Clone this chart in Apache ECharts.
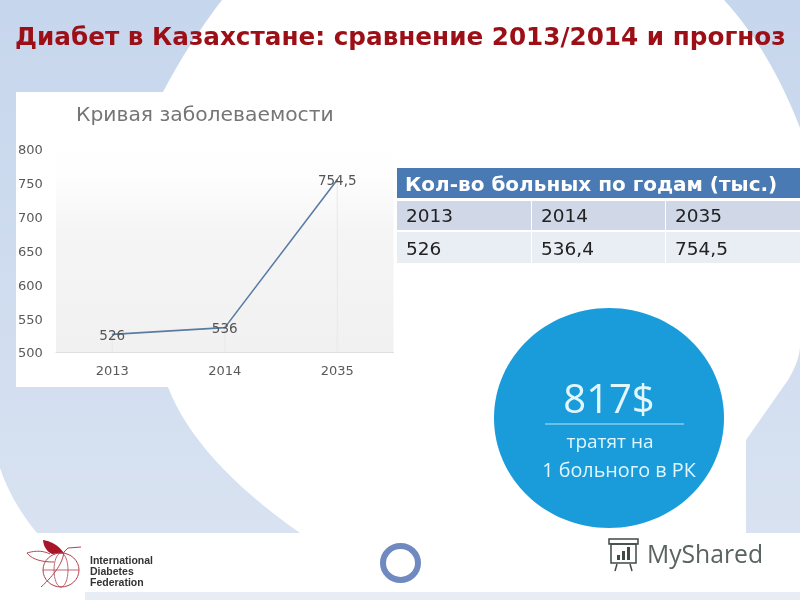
<!DOCTYPE html>
<html>
<head>
    <meta charset="UTF-8"/>
    <title>Диабет в Казахстане</title>
    <style>
        html, body { margin: 0; padding: 0; background: #fff; }
        #chart { width: 800px; height: 600px; }
    </style>
</head>
<body>
<div id="chart"></div>
<script src="https://cdn.jsdelivr.net/npm/echarts@6/dist/echarts.min.js"></script>
<script>
    const categories = ["2013", "2014", "2035"];
    const patients = [526, 536, 754.5];
    const yMin = 500;
    const yMax = 800;
    const yStep = 50;

    const tableTitle = "Кол-во больных по годам (тыс.)";
    const tableYears = ["2013", "2014", "2035"];
    const tableValues = ["526", "536,4", "754,5"];

    const font = "'DejaVu Sans', Verdana, sans-serif";
    const chart = echarts.init(document.getElementById("chart"), null, {renderer: "canvas"});

    function linear(stops) {
        return new echarts.graphic.LinearGradient(0, 0, 0, 1, stops.map(function (s) {
            return {offset: s[0], color: s[1]};
        }));
    }

    function label(x, y, text, size, color, extra) {
        return {
            type: "text", x: x, y: y, z: 5,
            style: Object.assign({text: text, fontSize: size, fill: color, fontFamily: font, verticalAlign: "middle"}, extra || {})
        };
    }

    // кривая для декоративных фигур: polygon/polyline понимают только точки
    function quad(a, c, b) {
        const pts = [];
        for (let i = 0; i <= 16; i++) {
            const t = i / 16, u = 1 - t;
            pts.push([u * u * a[0] + 2 * u * t * c[0] + t * t * b[0], u * u * a[1] + 2 * u * t * c[1] + t * t * b[1]]);
        }
        return pts;
    }

    // подложка слайда
    const whiteShape = [].concat(
        quad([222, 0], [188, 44], [163, 92]),
        [[163, 387]],
        quad([168, 387], [196, 460], [300, 533]),
        quad([37, 533], [12, 503], [0, 468]),
        [[0, 600], [800, 600], [800, 533], [746, 533], [746, 440]],
        quad([788, 380], [800, 360], [800, 345]),
        quad([800, 128], [770, 50], [724, 0])
    );
    const backdrop = [
        {type: "rect", z: -20, shape: {x: 0, y: 0, width: 800, height: 533},
            style: {fill: linear([[0, "#c6d6ec"], [0.5, "#cfdcef"], [1, "#d8e2f1"]])}},
        {type: "polygon", z: -19, shape: {points: whiteShape}, style: {fill: "#fff"}},
        {type: "rect", z: -18, shape: {x: 16, y: 92, width: 376, height: 295}, style: {fill: "#fff"}},
        {type: "rect", z: -18, shape: {x: 85, y: 592, width: 715, height: 8}, style: {fill: "#e8ecf4"}}
    ];

    // таблица справа
    const colX = [397, 532, 666];
    const colW = [134, 133, 134];
    const table = [
        {type: "rect", z: 3, shape: {x: 397, y: 168, width: 403, height: 30}, style: {fill: "#4a7ab3"}},
        label(405, 186, tableTitle, 20, "#fff", {fontWeight: "bold"})
    ];
    colX.forEach(function (x, i) {
        table.push(
            {type: "rect", z: 3, shape: {x: x, y: 201, width: colW[i], height: 29}, style: {fill: "#d0d8e8"}},
            {type: "rect", z: 3, shape: {x: x, y: 232, width: colW[i], height: 31}, style: {fill: "#e9edf4"}},
            label(x + 9, 217.5, tableYears[i], 18.5, "#222"),
            label(x + 9, 250.5, tableValues[i], 18.5, "#222")
        );
    });

    // синий круг
    const badgeFont = "'Open Sans', sans-serif";
    const badge = [
        {type: "ellipse", z: 3, shape: {cx: 609, cy: 418, rx: 115, ry: 110}, style: {fill: "#1a9cdb"}},
        label(609, 402, "817$", 40, "#e2f6fd", {align: "center", fontFamily: badgeFont}),
        {type: "line", z: 4, shape: {x1: 545, y1: 424, x2: 684, y2: 424}, style: {stroke: "#b5e6f8", lineWidth: 1}},
        label(610, 443, "тратят на", 19, "#e2f6fd", {align: "center", fontFamily: badgeFont}),
        label(619, 471, "1 больного в РК", 19.8, "#e2f6fd", {align: "center", fontFamily: badgeFont})
    ];

    // логотипы внизу
    const narrow = "'Liberation Sans Narrow', sans-serif";
    const logos = [
        {type: "polygon", z: 3, shape: {points: [].concat(quad([43, 540], [56, 542], [64, 553]), quad([52, 554], [44, 550], [43, 540]))}, style: {fill: "#a8162a"}},
        {type: "polyline", z: 3, shape: {points: [].concat([[81, 547], [68, 548]], quad([64, 552], [62, 568], [41, 587]))}, style: {fill: "none", stroke: "#b4404f", lineWidth: 1}},
        {type: "polyline", z: 3, shape: {points: [].concat(quad([50, 554], [40, 549], [27, 553]), quad([27, 553], [34, 562], [54, 562]))}, style: {fill: "none", stroke: "#b4404f", lineWidth: 1}},
        {type: "ellipse", z: 3, shape: {cx: 61, cy: 570, rx: 18, ry: 17}, style: {fill: "none", stroke: "#b4404f", lineWidth: 1}},
        {type: "ellipse", z: 3, shape: {cx: 61, cy: 570, rx: 7, ry: 17}, style: {fill: "none", stroke: "#b4404f", lineWidth: 0.8}},
        {type: "line", z: 3, shape: {x1: 43, y1: 570, x2: 79, y2: 570}, style: {stroke: "#b4404f", lineWidth: 0.8}},
        label(90, 561, "International", 10.5, "#333", {fontWeight: "bold", fontFamily: narrow}),
        label(90, 572, "Diabetes", 10.5, "#333", {fontWeight: "bold", fontFamily: narrow}),
        label(90, 583, "Federation", 10.5, "#333", {fontWeight: "bold", fontFamily: narrow}),
        {type: "ellipse", z: 3, shape: {cx: 400.5, cy: 563, rx: 17.5, ry: 17}, style: {fill: "none", stroke: "#7189c1", lineWidth: 6}},
        {type: "rect", z: 3, shape: {x: 609, y: 539, width: 29, height: 5}, style: {fill: "none", stroke: "#3f4a45", lineWidth: 1.5}},
        {type: "rect", z: 3, shape: {x: 611, y: 544, width: 25, height: 19}, style: {fill: "none", stroke: "#3f4a45", lineWidth: 1.5}},
        {type: "rect", z: 3, shape: {x: 617, y: 555, width: 3, height: 5}, style: {fill: "#3f4a45"}},
        {type: "rect", z: 3, shape: {x: 622, y: 551, width: 3, height: 9}, style: {fill: "#3f4a45"}},
        {type: "rect", z: 3, shape: {x: 627, y: 547, width: 3, height: 13}, style: {fill: "#3f4a45"}},
        {type: "line", z: 3, shape: {x1: 617, y1: 564, x2: 615, y2: 571}, style: {stroke: "#3f4a45", lineWidth: 1.5}},
        {type: "line", z: 3, shape: {x1: 630, y1: 564, x2: 632, y2: 571}, style: {stroke: "#3f4a45", lineWidth: 1.5}},
        label(647, 556, "MyShared", 24.7, "#59635f", {fontFamily: badgeFont})
    ];

    const option = {
        animation: false,
        textStyle: {fontFamily: font},
        title: [{
            left: 15,
            top: 26,
            padding: 0,
            text: "Диабет в Казахстане: сравнение 2013/2014 и прогноз",
            textStyle: {fontFamily: font, fontSize: 24.7, fontWeight: "bold", color: "#9c0f16"}
        }, {
            left: 76,
            top: 106,
            padding: 0,
            text: "Кривая заболеваемости",
            textStyle: {fontFamily: font, fontSize: 20.3, fontWeight: "normal", color: "#757575"}
        }],
        graphic: {elements: backdrop.concat(table, badge, logos)},
        grid: {
            left: 56,
            top: 149,
            width: 337.5,
            height: 203,
            show: true,
            borderWidth: 0,
            backgroundColor: linear([[0, "#ffffff"], [0.15, "#fdfdfd"], [0.4, "#f5f5f5"], [1, "#f1f1f1"]])
        },
        xAxis: {
            type: "category",
            data: categories,
            axisLine: {lineStyle: {color: "#dedede"}},
            axisTick: {show: false},
            axisLabel: {color: "#595959", fontSize: 13, margin: 13}
        },
        yAxis: {
            type: "value",
            min: yMin,
            max: yMax,
            interval: yStep,
            axisLine: {show: false},
            axisTick: {show: false},
            splitLine: {show: false},
            axisLabel: {
                align: "left",
                margin: 38,
                formatter: "{v|{value}}",
                rich: {v: {color: "#595959", fontSize: 13, padding: [4, 0, 0, 0]}}
            }
        },
        series: [{
            // линии сброса от точки к оси
            type: "bar",
            data: patients,
            barWidth: 1,
            silent: true,
            itemStyle: {color: "#e8e8e8"}
        }, {
            type: "line",
            data: patients,
            symbol: "circle",
            symbolSize: 1,
            lineStyle: {color: "#5a7ca3", width: 1.6},
            itemStyle: {color: "#5a7ca3"},
            label: {
                show: true,
                position: "inside",
                offset: [0, 2],
                color: "#555",
                fontSize: 13.5,
                formatter: function (p) {
                    return String(p.value).replace(".", ",");
                }
            }
        }]
    };
    chart.setOption(option);
</script>
</body>
</html>
